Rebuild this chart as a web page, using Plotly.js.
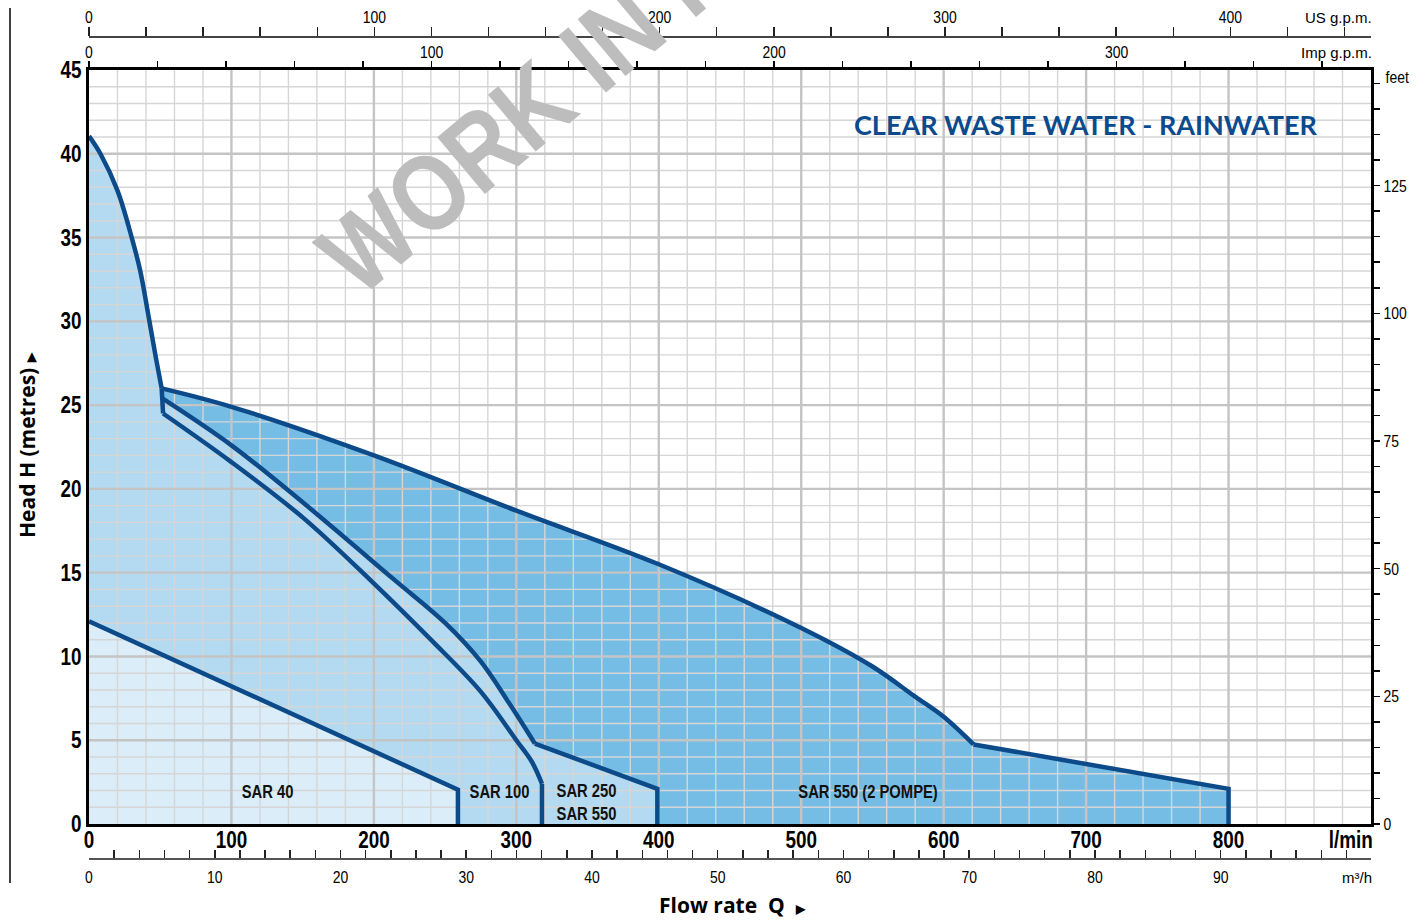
<!DOCTYPE html>
<html><head><meta charset="utf-8">
<script src="https://cdn.plot.ly/plotly-3.0.1.min.js"></script>
<style>html,body{margin:0;padding:0;background:#fff}#chart{width:1428px;height:921px}</style>
</head><body><div id="chart"></div>
<script>
// ---------- data ----------
const flowTicks = [0, 100, 200, 300, 400, 500, 600, 700, 800];   // l/min labels
const headTicks = [0, 5, 10, 15, 20, 25, 30, 35, 40, 45];         // metres labels
const flowMax = 900, headMax = 45;
const impMax = 374.3, usMax = 449.3, m3Max = 101.95;               // secondary scales spanning the plot width
const impLabels = [0, 100, 200, 300];
const usLabels = [0, 100, 200, 300, 400];
const m3Labels = [0, 10, 20, 30, 40, 50, 60, 70, 80, 90];
const feetLabels = [0, 25, 50, 75, 100, 125];
const feetPerMetre = 3.28084;

// SAR 40
const q40 = [0, 100, 200, 259];
const h40 = [12.1, 8.2, 4.3, 2.05];
// common steep curve (top of SAR 100 / SAR 250 field) down to the knee
const qMain = [0, 8, 20, 30, 36, 42, 47, 51];
const hMain = [41.05, 40.0, 37.8, 35.0, 33.0, 30.2, 27.8, 26.0];
// SAR 100 (inner curve)
const qA = [52, 100, 150, 197, 240, 275, 300, 311, 318];
const hA = [24.5, 21.6, 18.3, 14.6, 11.0, 7.9, 5.0, 3.7, 2.4];
// SAR 250 / SAR 550 (outer curve), corner at index 7
const qB = [51.5, 100, 150, 214, 250, 275, 295, 313, 399];
const hB = [25.4, 22.6, 19.2, 14.6, 12.0, 9.7, 7.2, 4.8, 2.1];
const bCorner = 7;
// SAR 550 (2 pompe), corner at index 9
const q2p = [51, 100, 200, 300, 400, 500, 550, 580, 600, 621, 800];
const h2p = [26.0, 24.9, 22.0, 18.7, 15.5, 11.7, 9.4, 7.6, 6.4, 4.75, 2.1];
const pCorner = 9;

const seriesNames = ['SAR 40', 'SAR 100', 'SAR 250<br>SAR 550', 'SAR 550 (2 POMPE)'];
const labelQ = [125, 288.5, 349, 547];
const labelH = [1.9, 1.9, 1.3, 1.9];

// ---------- helpers ----------
const NARROW = "'Liberation Sans', Arial, sans-serif";
const HUM = "'Open Sans', 'Noto Sans', sans-serif";
const NAVY = '#0c4a8a';
const PL = 89, PR = 1371, PT = 70, PB = 824, PAPT = 30, PAPB = 870;
const fx = p => (p - PL) / (PR - PL);
const fy = p => (PAPB - p) / (PAPB - PAPT);
const last = a => a[a.length - 1];
const rev = a => a.slice().reverse();
const range = (a, b, s) => { const r = []; for (let v = a; v <= b + 1e-9; v += s) r.push(+v.toFixed(6)); return r; };

// fill polygons built from the curves
const lightestX = [0].concat(q40, [last(q40)]);
const lightestY = [0].concat(h40, [0]);
const lightX = qMain.concat(qB, [last(qB), last(q40)], rev(q40));
const lightY = hMain.concat(hB, [0, 0], rev(h40));
const medX = q2p.concat([last(q2p), last(qB)], rev(qB));
const medY = h2p.concat([0, 0], rev(hB));

function grid(vals, vertical) {
  const xs = [], ys = [];
  vals.forEach(v => {
    if (vertical) { xs.push(v, v, null); ys.push(0, headMax, null); }
    else { xs.push(0, flowMax, null); ys.push(v, v, null); }
  });
  return { xs, ys };
}
const vMinor = grid(range(20, 880, 20).filter(v => v % 100 !== 0), true);
const vMajor = grid(range(100, 800, 100), true);
const hMinor = grid(range(1, 44, 1).filter(v => v % 5 !== 0), false);
const hMajor = grid(range(5, 40, 5), false);

const fillT = (x, y, c) => ({ x, y, type: 'scatter', mode: 'lines', fill: 'toself', fillcolor: c, line: { width: 0 }, hoverinfo: 'skip' });
const gridT = (g, c, w) => ({ x: g.xs, y: g.ys, type: 'scatter', mode: 'lines', line: { color: c, width: w }, hoverinfo: 'skip', connectgaps: false });
const lineT = (x, y, smooth) => ({ x, y, type: 'scatter', mode: 'lines', line: { color: NAVY, width: 4.5, shape: smooth ? 'spline' : 'linear', smoothing: 1 }, hoverinfo: 'skip' });
const axisT = (xa, ya) => ({ x: [0], y: [0], xaxis: xa, yaxis: ya, type: 'scatter', mode: 'none', hoverinfo: 'skip', showlegend: false });

const traces = [
  fillT(medX, medY, '#76bde5'),
  fillT(lightX, lightY, '#b3daf0'),
  fillT(lightestX, lightestY, '#daedf8'),
  gridT(vMinor, '#d6d6d6', 1.4),
  gridT(hMinor, '#d6d6d6', 1.4),
  gridT(vMajor, '#c4c4c4', 2.4),
  gridT(hMajor, '#c4c4c4', 2.4),
  lineT(q40.concat([last(q40)]), h40.concat([0]), false),
  lineT(qMain, hMain, true),
  lineT([last(qMain), qA[0]], [last(hMain), hA[0]], false),
  lineT(qA, hA, true),
  lineT([last(qA), last(qA)], [last(hA), 0], false),
  lineT(qB.slice(0, bCorner + 1), hB.slice(0, bCorner + 1), true),
  lineT(qB.slice(bCorner).concat([last(qB)]), hB.slice(bCorner).concat([0]), false),
  lineT(q2p.slice(0, pCorner + 1), h2p.slice(0, pCorner + 1), true),
  lineT(q2p.slice(pCorner).concat([last(q2p)]), h2p.slice(pCorner).concat([0]), false),
  axisT('x2', 'y'), axisT('x3', 'y'), axisT('x4', 'y'), axisT('x', 'y2')
];

const feetVals = range(0, 145, 5);
const feetText = feetVals.map(v => feetLabels.includes(v) ? String(v) : '');
const impVals = range(0, 360, 20);
const impText = impVals.map(v => impLabels.includes(v) ? String(v) : '');
const usVals = range(0, 440, 20);
const usText = usVals.map(v => usLabels.includes(v) ? String(v) : '');
const m3Vals = range(0, 100, 2);
const m3Text = m3Vals.map(v => m3Labels.includes(v) ? String(v) : '');

const smallFont = { family: NARROW, size: 17, color: '#000' };
const boldTick = { family: NARROW, size: 23, color: '#000', weight: 'bold' };

const ann = [
  { text: 'US g.p.m.', xref: 'paper', yref: 'paper', x: fx(1374), y: fy(17), xanchor: 'right', yanchor: 'middle', showarrow: false, font: { family: NARROW, size: 15, color: '#000' } },
  { text: 'Imp g.p.m.', xref: 'paper', yref: 'paper', x: fx(1374), y: fy(52), xanchor: 'right', yanchor: 'middle', showarrow: false, font: { family: NARROW, size: 15, color: '#000' } },
  { text: 'm³/h', xref: 'paper', yref: 'paper', x: fx(1374), y: fy(877), xanchor: 'right', yanchor: 'middle', showarrow: false, font: { family: NARROW, size: 15, color: '#000' } },
  { text: 'CLEAR WASTE WATER - RAINWATER', xref: 'paper', yref: 'paper', x: fx(1085), y: fy(124), xanchor: 'center', yanchor: 'middle', showarrow: false, font: { family: "Lato, 'Open Sans', sans-serif", size: 27, weight: 'bold', color: '#0b4a8c' } },
  { text: 'Head H (metres) <span style="font-size:12px">▶</span>', textangle: -90, xref: 'paper', yref: 'paper', x: fx(27), y: fy(445), xanchor: 'center', yanchor: 'middle', showarrow: false, font: { family: HUM, size: 21, weight: 'bold', color: '#000' } },
  { text: 'Flow rate  Q  <span style="font-size:12px">▶</span>', xref: 'paper', yref: 'paper', x: fx(733), y: fy(921), xanchor: 'center', yanchor: 'bottom', showarrow: false, font: { family: HUM, size: 21, weight: 'bold', color: '#000' } },
  { text: 'WORK IN PROGRESS', textangle: -40, xref: 'paper', yref: 'paper', x: fx(700), y: fy(-36), xanchor: 'center', yanchor: 'middle', showarrow: false, font: { family: "Arimo, 'Liberation Sans', sans-serif", size: 108, weight: 'bold', color: '#bdbdbd' } },
  { text: 'l/min', xref: 'paper', yref: 'paper', x: fx(1350.5), y: fy(840), xanchor: 'center', yanchor: 'middle', showarrow: false, font: boldTick },
  { text: 'feet', xref: 'paper', yref: 'paper', x: fx(1397), y: fy(77), xanchor: 'center', yanchor: 'middle', showarrow: false, font: smallFont }
];
const WATERMARK = ann.length - 3;
const squeezeAnn = [ann.length - 2, ann.length - 1];
seriesNames.forEach((n, i) => {
  squeezeAnn.push(ann.length);
  ann.push({ text: n, xref: 'x', yref: 'y', x: labelQ[i], y: labelH[i], xanchor: 'center', yanchor: 'middle', showarrow: false, font: { family: NARROW, size: 18, weight: 'bold', color: '#111' } });
});

const layout = {
  width: 1428, height: 921,
  margin: { l: 89, r: 57, t: 30, b: 51, pad: 0 },
  paper_bgcolor: '#fff', plot_bgcolor: '#fff',
  showlegend: false, hovermode: false,
  xaxis: { range: [0, flowMax], domain: [0, 1], anchor: 'y', showgrid: false, zeroline: false, showline: true, linecolor: '#000', linewidth: 3, mirror: true, ticks: '', tickmode: 'array', tickvals: flowTicks, tickfont: boldTick, ticklabelstandoff: -7, fixedrange: true },
  yaxis: { range: [0, headMax], domain: [fy(PB), fy(PT)], anchor: 'x', showgrid: false, zeroline: false, showline: true, linecolor: '#000', linewidth: 3, mirror: true, ticks: '', tickmode: 'array', tickvals: headTicks, tickfont: boldTick, fixedrange: true },
  xaxis2: { overlaying: 'x', side: 'top', anchor: 'y', range: [0, impMax], tickmode: 'array', tickvals: impVals, ticktext: impText, ticks: 'outside', ticklen: 8, tickwidth: 1.5, tickcolor: '#000', showline: false, showgrid: false, zeroline: false, tickfont: smallFont, ticklabelstandoff: -4, fixedrange: true },
  xaxis3: { overlaying: 'x', side: 'top', anchor: 'free', position: fy(36), range: [0, usMax], tickmode: 'array', tickvals: usVals, ticktext: usText, ticks: 'outside', ticklen: 9, tickwidth: 1.5, tickcolor: '#222', showline: true, linecolor: '#444', linewidth: 1.5, showgrid: false, zeroline: false, tickfont: smallFont, ticklabelstandoff: -3, fixedrange: true },
  xaxis4: { overlaying: 'x', side: 'bottom', anchor: 'free', position: fy(858), range: [0, m3Max], tickmode: 'array', tickvals: m3Vals, ticktext: m3Text, ticks: 'inside', ticklen: 8, tickwidth: 1.5, tickcolor: '#222', showline: true, linecolor: '#555', linewidth: 1.5, showgrid: false, zeroline: false, tickfont: smallFont, ticklabelstandoff: 3, fixedrange: true },
  yaxis2: { overlaying: 'y', side: 'right', anchor: 'x', range: [0, headMax * feetPerMetre], tickmode: 'array', tickvals: feetVals, ticktext: feetText, ticks: 'outside', ticklen: 8, tickwidth: 1.5, tickcolor: '#000', showline: false, showgrid: false, zeroline: false, tickfont: smallFont, fixedrange: true },
  annotations: ann,
  shapes: [
    { type: 'line', xref: 'paper', yref: 'paper', x0: fx(10), x1: fx(10), y0: fy(883), y1: fy(8), line: { color: '#000', width: 1.5 } }
  ]
};

// condense the narrow-font texts (the reference uses a condensed face)
function squeeze(el, f) {
  const lines = el.querySelectorAll('tspan.line');
  const targets = lines.length ? Array.from(lines) : [el];
  targets.forEach(t => {
    const w = t.getComputedTextLength();
    if (w > 0) { t.setAttribute('textLength', (w * f).toFixed(2)); t.setAttribute('lengthAdjust', 'spacingAndGlyphs'); }
  });
}

Plotly.newPlot('chart', traces, layout, { displayModeBar: false, staticPlot: true }).then(gd => {
  gd.querySelectorAll('g.xtick > text, g.ytick > text, g.x2tick > text, g.x3tick > text, g.x4tick > text, g.y2tick > text')
    .forEach(el => squeeze(el, 0.82));
  squeezeAnn.forEach(i => {
    const el = gd.querySelector('g.annotation[data-index="' + i + '"] text.annotation-text');
    if (el) squeeze(el, 0.82);
  });
  const wm = gd.querySelector('g.annotation[data-index="' + WATERMARK + '"] text.annotation-text');
  if (wm) squeeze(wm, 0.85);
});
</script>
</body></html>
